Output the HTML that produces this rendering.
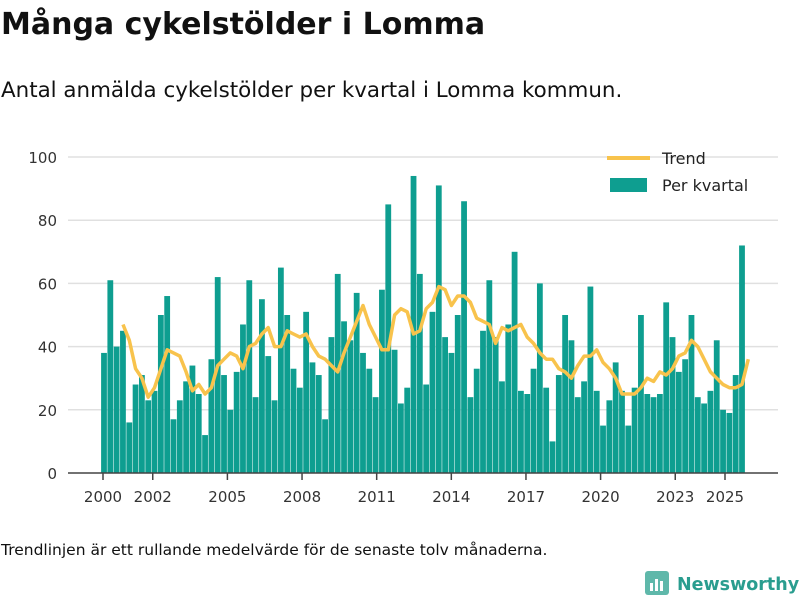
<!DOCTYPE html>
<html><head><meta charset="utf-8"><style>
body{margin:0;background:#fff;font-family:"DejaVu Sans",sans-serif;}
#wrap{position:relative;width:800px;height:600px;overflow:hidden;}
h1{position:absolute;left:1px;top:7px;margin:0;font-size:30px;font-weight:bold;color:#111;white-space:nowrap;}
.sub{position:absolute;left:1px;top:78px;font-size:21.4px;color:#111;white-space:nowrap;}
.note{position:absolute;left:1px;top:541px;font-size:15.5px;color:#111;white-space:nowrap;}
.logo{position:absolute;left:645px;top:569px;font-size:17.5px;font-weight:bold;color:#2a9d8f;white-space:nowrap;}
</style></head><body>
<div id="wrap">
<h1>Många cykelstölder i Lomma</h1>
<div class="sub">Antal anmälda cykelstölder per kvartal i Lomma kommun.</div>
<svg id="chart" width="800" height="600" style="position:absolute;left:0;top:0"></svg>
<div class="note">Trendlinjen är ett rullande medelvärde för de senaste tolv månaderna.</div>
<div class="logo"><svg width="24" height="26" style="vertical-align:-5px;margin-right:8px"><rect x="0" y="2" width="24" height="24" rx="3" fill="#5fb8aa"/><rect x="5" y="14" width="3" height="8" fill="#fff"/><rect x="10" y="10" width="3" height="12" fill="#fff"/><rect x="15" y="12" width="3" height="10" fill="#fff"/></svg>Newsworthy</div>
</div>
<script>
const barValues=[38,61,40,45,16,28,31,23,26,50,56,17,23,29,34,25,12,36,62,31,20,32,47,61,24,55,37,23,65,50,33,27,51,35,31,17,43,63,48,42,57,38,33,24,58,85,39,22,27,94,63,28,51,91,43,38,50,86,24,33,45,61,43,29,47,70,26,25,33,60,27,10,31,50,42,24,29,59,26,15,23,35,26,15,27,50,25,24,25,54,43,32,36,50,24,22,26,42,20,19,31,72];
const trendValues=[47,42,33,30,24,27,33,39,38,37,32,26,28,25,27,34,36,38,37,33,40,41,44,46,40,40,45,44,43,44,40,37,36,34,32,38,43,48,53,47,43,39,39,50,52,51,44,45,52,54,59,58,53,56,56,54,49,48,47,41,46,45,46,47,43,41,38,36,36,33,32,30,34,37,37,39,35,33,30,25,25,25,27,30,29,32,31,33,37,38,42,40,36,32,30,28,27,27,28,36];
const trendStart=3;
const yTicks=[0,20,40,60,80,100];
const xTickYears=[2000,2002,2005,2008,2011,2014,2017,2020,2023,2025];
const NS="http://www.w3.org/2000/svg";
const svg=document.getElementById('chart');
const FF='DejaVu Sans, sans-serif';
const y=v=>473-v*3.16;
const xb=i=>104+i*(638/(barValues.length-1));
const xy=yr=>103+(yr-2000)*24.88;
function mk(t,a){const e=document.createElementNS(NS,t);for(const k in a)e.setAttribute(k,a[k]);svg.appendChild(e);return e;}
yTicks.forEach(v=>{
  if(v>0){const g=mk('line',{x1:68,x2:778,y1:y(v),y2:y(v),stroke:'#e0e0e0','stroke-width':1.5});
  
  }
  const t=mk('text',{x:57,y:y(v)+6,'text-anchor':'end','font-size':15,fill:'#333','font-family':FF});
  t.textContent=v;
  
  
});
barValues.forEach((v,i)=>{
  const r=mk('rect',{x:xb(i)-2.9,y:y(v),width:5.8,height:v*3.16,fill:'#0e9e90'});
  
  
});
const ax=mk('line',{x1:68,x2:778,y1:473,y2:473,stroke:'#444','stroke-width':1.5});


xTickYears.forEach(yr=>{
  const l=mk('line',{x1:xy(yr),x2:xy(yr),y1:473,y2:480,stroke:'#444','stroke-width':1.5});
  
  
  const t=mk('text',{x:xy(yr),y:502,'text-anchor':'middle','font-size':15,fill:'#333','font-family':FF});
  t.textContent=yr;
  
  
});
const pts=trendValues.map((v,i)=>xb(i+trendStart).toFixed(1)+','+y(v).toFixed(1)).join(' ');
const pl=mk('polyline',{points:pts,fill:'none',stroke:'#f8c34c','stroke-width':3.5,'stroke-linejoin':'round'});


const l1=mk('line',{x1:607,x2:650,y1:158,y2:158,stroke:'#f8c34c','stroke-width':4});


const t1=mk('text',{x:662,y:164,'font-size':16,fill:'#222','font-family':FF});
t1.textContent='Trend';


const r2=mk('rect',{x:610,y:178,width:37,height:14,fill:'#0e9e90'});


const t2=mk('text',{x:662,y:191,'font-size':16,fill:'#222','font-family':FF});
t2.textContent='Per kvartal';


</script>
</body></html>
